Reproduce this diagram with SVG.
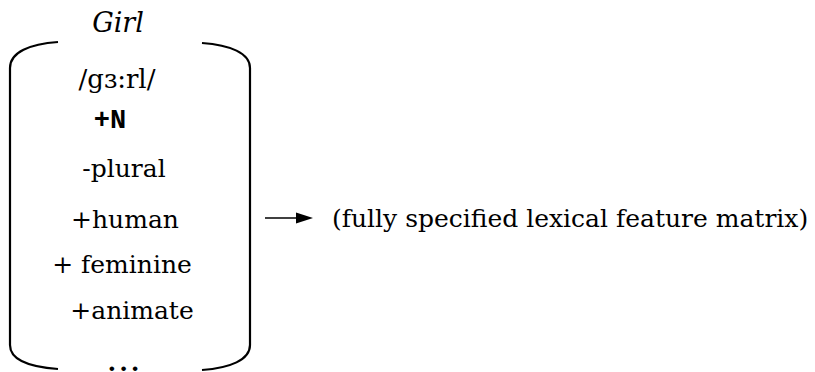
<svg xmlns="http://www.w3.org/2000/svg" width="815" height="372" viewBox="0 0 815 372">
<style>
.t{font-family:"DejaVu Serif","Liberation Serif",serif;font-size:25px;fill:#000;text-anchor:middle}
.it{font-style:italic;font-size:27px}
.b{font-family:"Liberation Mono","DejaVu Sans Mono",monospace;font-weight:bold;font-size:27px}
.br{fill:none;stroke:#000;stroke-width:2.2}
</style>
<rect width="815" height="372" fill="#fff"/>
<g id="matrix">
<path class="br" d="M58 42 C30 44 10 52 10 68 L10 345 C10 360 30 367 58 369"/>
<path class="br" d="M202 43 C230 45 250 53 250 68 L250 345 C250 360 230 368 202 370"/>
<text class="t it" x="118" y="32">Girl</text>
<text class="t" x="117" y="88" style="font-size:26px">/gɜ:rl/</text>
<text class="t b" x="110" y="128">+N</text>
<text class="t" x="124" y="177">-plural</text>
<text class="t" x="125" y="228">+human</text>
<text class="t" x="122" y="273">+ feminine</text>
<text class="t" x="132" y="319">+animate</text>
<text class="t" x="125" y="371" style="letter-spacing:3px;font-weight:bold">...</text>
</g>
<g id="label">
<text class="t" x="332" y="227" style="text-anchor:start">(fully specified lexical feature matrix)</text>
</g>
<g id="connectors">
<line x1="265" y1="218" x2="299" y2="218" stroke="#000" stroke-width="1.6"/>
<polygon points="296,212.5 313,218 296,223.5" fill="#000"/>
</g>
</svg>
